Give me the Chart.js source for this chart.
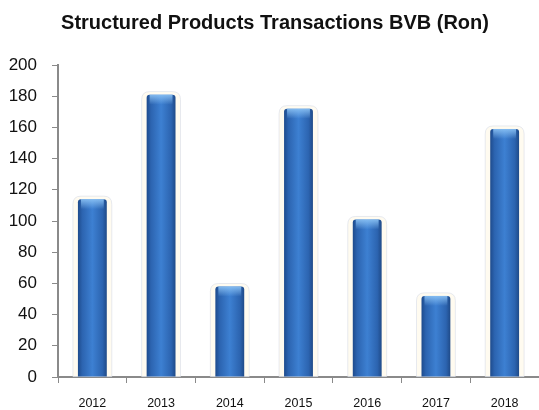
<!DOCTYPE html>
<html>
<head>
<meta charset="utf-8">
<script src="https://cdn.jsdelivr.net/npm/chart.js@4.4.1/dist/chart.umd.min.js"></script>
<style>
  html, body { margin: 0; padding: 0; background: #fff; }
  #wrap { width: 539px; height: 410px; }
</style>
</head>
<body>
<div id="wrap"><canvas id="txChart"></canvas></div>
<script>
// Data
const years = ['2012', '2013', '2014', '2015', '2016', '2017', '2018'];
const transactions = [114, 181, 58, 172, 101, 52, 159];
const titleText = 'Structured Products Transactions BVB (Ron)';

const BAR_PCT = 0.42;

// horizontal gradient for each bar
function barFill(context) {
    const chart = context.chart;
    if (!chart.chartArea || !chart.scales.x) return '#3473c4';
    const xs = chart.scales.x;
    const cx = xs.getPixelForValue(context.dataIndex);
    const half = (xs.width / years.length) * BAR_PCT / 2;
    const g = chart.ctx.createLinearGradient(cx - half, 0, cx + half, 0);
    g.addColorStop(0, '#1e4b8c');
    g.addColorStop(0.15, '#2c64b0');
    g.addColorStop(0.5, '#3d80d2');
    g.addColorStop(0.85, '#2c64b0');
    g.addColorStop(1, '#1f4a88');
    return g;
}

function roundRect(ctx, x, y, w, h, r) {
    ctx.beginPath();
    ctx.moveTo(x + r, y);
    ctx.lineTo(x + w - r, y);
    ctx.quadraticCurveTo(x + w, y, x + w, y + r);
    ctx.lineTo(x + w, y + h);
    ctx.lineTo(x, y + h);
    ctx.lineTo(x, y + r);
    ctx.quadraticCurveTo(x, y, x + r, y);
    ctx.closePath();
}

// halo behind bars + highlight on top
const barGlow = {
    id: 'barGlow',
    beforeDatasetsDraw(chart) {
        const ctx = chart.ctx;
        chart.getDatasetMeta(0).data.forEach(bar => {
            const w = bar.width + 10;
            const top = bar.y - 3;
            ctx.save();
            roundRect(ctx, bar.x - w / 2, top, w, bar.base - top, 8);
            ctx.fillStyle = 'rgba(255, 251, 238, 0.9)';
            ctx.fill();
            ctx.strokeStyle = 'rgba(215, 220, 232, 0.6)';
            ctx.lineWidth = 1;
            ctx.stroke();
            ctx.restore();
        });
    },
    afterDatasetsDraw(chart) {
        const ctx = chart.ctx;
        chart.getDatasetMeta(0).data.forEach(bar => {
            const l = bar.x - bar.width / 2;
            const g = ctx.createLinearGradient(0, bar.y, 0, bar.y + 10);
            g.addColorStop(0, 'rgba(140, 195, 245, 0.9)');
            g.addColorStop(1, 'rgba(140, 195, 245, 0)');
            ctx.save();
            ctx.fillStyle = g;
            ctx.fillRect(l + 3, bar.y, bar.width - 6, 10);
            ctx.restore();
        });
    }
};

// title placed like the original
const titlePlugin = {
    id: 'customTitle',
    afterDraw(chart) {
        const ctx = chart.ctx;
        ctx.save();
        ctx.font = 'bold 20px "Liberation Sans", Arial, sans-serif';
        ctx.fillStyle = '#111';
        ctx.textAlign = 'center';
        ctx.textBaseline = 'middle';
        ctx.fillText(titleText, 275, 23);
        ctx.restore();
    }
};

const ctx = document.getElementById('txChart').getContext('2d');
new Chart(ctx, {
    type: 'bar',
    data: {
        labels: years,
        datasets: [{
            label: 'Transactions',
            data: transactions,
            backgroundColor: barFill,
            borderWidth: 0,
            borderRadius: { topLeft: 3, topRight: 3 },
            borderSkipped: 'bottom',
            categoryPercentage: 1,
            barPercentage: BAR_PCT
        }]
    },
    options: {
        responsive: true,
        maintainAspectRatio: false,
        animation: false,
        layout: { padding: { top: 65, left: 0, right: 0, bottom: 0 } },
        plugins: {
            legend: { display: false },
            title: { display: false },
            tooltip: { enabled: false }
        },
        scales: {
            x: {
                grid: {
                    display: true,
                    drawOnChartArea: false,
                    offset: true,
                    tickLength: 6,
                    color: '#8a8a8a'
                },
                border: { color: '#8a8a8a', width: 2 },
                ticks: {
                    color: '#111',
                    padding: 13,
                    font: { family: '"Liberation Sans", Arial, sans-serif', size: 12.5 }
                },
                afterFit(scale) { scale.height = 33; }
            },
            y: {
                min: 0,
                max: 200,
                grid: {
                    display: true,
                    drawOnChartArea: false,
                    tickLength: 6,
                    color: '#8a8a8a'
                },
                border: { color: '#8a8a8a', width: 2 },
                ticks: {
                    stepSize: 20,
                    color: '#111',
                    padding: 15,
                    font: { family: '"Liberation Sans", Arial, sans-serif', size: 17 }
                },
                afterFit(scale) { scale.width = 58; }
            }
        }
    },
    plugins: [barGlow, titlePlugin]
});
</script>
</body>
</html>
